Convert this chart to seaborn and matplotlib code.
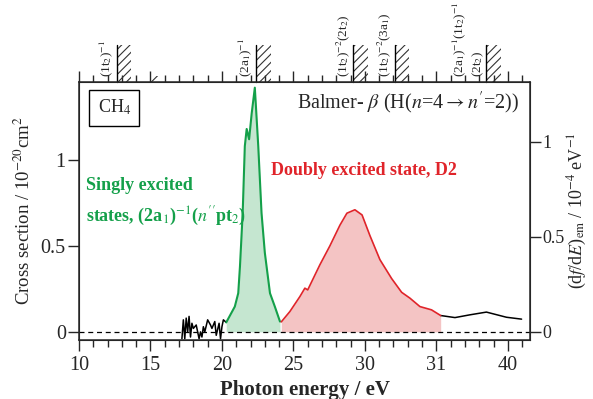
import numpy as np
import pandas as pd
import matplotlib.pyplot as plt
import matplotlib.transforms as mtransforms
from matplotlib.patches import Rectangle
import seaborn as sns

sns.set_style('ticks')
plt.rcParams['font.family'] = ['Liberation Serif', 'DejaVu Serif']
plt.rcParams['mathtext.fontset'] = 'stix'
plt.rcParams['hatch.linewidth'] = 0.8

# noisy region below the first excited states
noise_e = [17.2, 17.3, 17.4, 17.5, 17.6, 17.7, 17.8, 17.9, 18.0, 18.2, 18.4, 18.5,
           18.6, 18.7, 18.8, 19.0, 19.2, 19.3, 19.5, 19.6, 19.8, 19.9, 20.0, 20.1, 20.3]
noise_y = [-0.04, 0.07, -0.04, 0.08, 0.0, 0.09, -0.03, 0.05, 0.02, 0.04, -0.04, 0.0,
           -0.03, 0.03, 0.0, 0.07, 0.04, 0.02, 0.06, -0.02, 0.05, -0.04, 0.03, 0.07, 0.055]

# singly excited states (green)
single_e = [20.3, 20.9, 21.14, 21.26, 21.45, 21.6, 21.73, 21.9, 22.08, 22.3,
            22.54, 22.77, 23.0, 23.36, 23.7, 24.06]
single_y = [0.055, 0.147, 0.225, 0.38, 0.69, 1.08, 1.18, 1.12, 1.27, 1.42,
            1.08, 0.69, 0.46, 0.225, 0.147, 0.06]

# doubly excited state D2 (red)
double_e = [24.15, 24.75, 25.45, 25.8, 26.0, 26.5, 26.85, 27.55, 28.25, 28.74, 29.3,
            29.8, 30.35, 31.05, 31.87, 32.57, 33.15, 33.85, 34.66, 35.3]
double_y = [0.058, 0.118, 0.205, 0.254, 0.244, 0.33, 0.39, 0.5, 0.62, 0.69, 0.71,
            0.68, 0.56, 0.42, 0.31, 0.23, 0.196, 0.147, 0.128, 0.095]

# high energy tail
tail_e = [35.3, 36.3, 37.34, 38.5, 39.9, 40.96]
tail_y = [0.095, 0.083, 0.099, 0.115, 0.085, 0.074]

# ionization thresholds on the top axis
thresholds = [12.65, 22.4, 29.2, 32.1, 38.5]
thr_labels = [(11.9, r'(1t$_2$)$^{-1}$'), (21.65, r'(2a$_1$)$^{-1}$'),
              (28.45, r'(1t$_2$)$^{-2}$(2t$_2$)'), (31.35, r'(1t$_2$)$^{-2}$(3a$_1$)'),
              (36.6, r'(2a$_1$)$^{-1}$(1t$_2$)$^{-1}$'), (37.9, r'(2t$_2$)')]

xticks = [10, 15, 20, 25, 30, 35, 40]
xtick_labels = ['10', '15', '20', '25', '30', '31', '40']

green, green_fill = '#14a04a', '#c5e6d0'
red, red_fill = '#e0242a', '#f4c4c4'

fig = plt.figure(figsize=(5.93, 3.99), dpi=100)
ax = fig.add_axes([0.1332, 0.148, 0.7606, 0.6465])

ax.axhline(0, color='k', lw=0.9, ls=(0, (4, 3)))
ax.fill_between(single_e, single_y, color=green_fill, lw=0)
ax.fill_between(double_e, double_y, color=red_fill, lw=0)
sns.lineplot(x=noise_e, y=noise_y, ax=ax, color='k', lw=1.1, sort=False)
sns.lineplot(x=tail_e, y=tail_y, ax=ax, color='k', lw=1.1, sort=False)
sns.lineplot(x=single_e, y=single_y, ax=ax, color=green, lw=1.5, sort=False)
sns.lineplot(x=double_e, y=double_y, ax=ax, color=red, lw=1.2, sort=False)

ax.set_xlim(10, 41.55)
ax.set_ylim(-0.047, 1.453)
ax.set_xticks(xticks)
ax.set_xticklabels(xtick_labels)
ax.set_xticks(np.arange(10, 42, 1), minor=True)
ax.set_yticks([0, 0.5, 1])
ax.set_yticklabels(['0', '0.5', '1'])
ax.tick_params(axis='x', which='both', top=True, direction='out')
ax.tick_params(which='major', length=8, width=1, labelsize=14.5)
ax.tick_params(axis='y', pad=1.5)
ax.tick_params(which='minor', length=5, width=1)
for s in ax.spines.values():
    s.set_linewidth(1.1)

ax.set_xlabel('Photon energy / eV', fontsize=15, fontweight='bold')
ax.set_ylabel(r'Cross section / 10$^{-20}$cm$^2$', fontsize=13.5)
ax.yaxis.set_label_coords(-0.1, 0.5)

ax2 = ax.twinx()
ax2.set_ylim(-0.0425, 1.315)
ax2.set_yticks([0, 0.5, 1])
ax2.set_yticklabels(['0', '0.5', '1'])
ax2.tick_params(which='major', length=8, width=1, labelsize=13, pad=1)
ax2.set_ylabel(r'(d$f$/d$E$)$_{\rm em}$ / 10$^{-4}$ eV$^{-1}$', fontsize=13)
ax2.yaxis.set_label_coords(1.08, 0.5)

# thresholds above the top spine
trans = mtransforms.blended_transform_factory(ax.transData, ax.transAxes)
for e in thresholds:
    ax.add_patch(Rectangle((e, 1.0), 1.0, 0.143, transform=trans, clip_on=False,
                           fill=False, hatch='////', lw=0, edgecolor='#333333'))
    ax.plot([e, e], [1.0, 1.143], transform=trans, color='k', lw=1, clip_on=False)
ax.add_patch(Rectangle((15.05, 1.0), 0.5, 0.025, transform=trans, clip_on=False,
                       fill=False, hatch='////', lw=0, edgecolor='#333333'))
for e, lab in thr_labels:
    ax.text(e, 1.02, lab, transform=trans, rotation=90, ha='center', va='bottom',
            fontsize=9.5)

ax.text(0.078, 0.9, r'CH$_4$', transform=ax.transAxes, fontsize=13, ha='center',
        va='center', bbox=dict(boxstyle='square,pad=0.45', fc='white', ec='k', lw=1))
ax.text(0.975, 0.919, r"Balmer- $\beta$ (H($n$=4$\rightarrow$$n'$=2))",
        transform=ax.transAxes, fontsize=14.5, ha='right', va='center')
ax.text(0.015, 0.533, 'Singly excited\n' + r'states, (2a$_1$)$^{-1}$($n^{\prime\prime}$pt$_2$)',
        transform=ax.transAxes, fontsize=13, fontweight='bold', color=green,
        ha='left', va='center', linespacing=1.7)
ax.text(0.425, 0.655, 'Doubly excited state, D2', transform=ax.transAxes, fontsize=13,
        fontweight='bold', color=red, ha='left', va='center')

fig.savefig('out.png', dpi=100)
